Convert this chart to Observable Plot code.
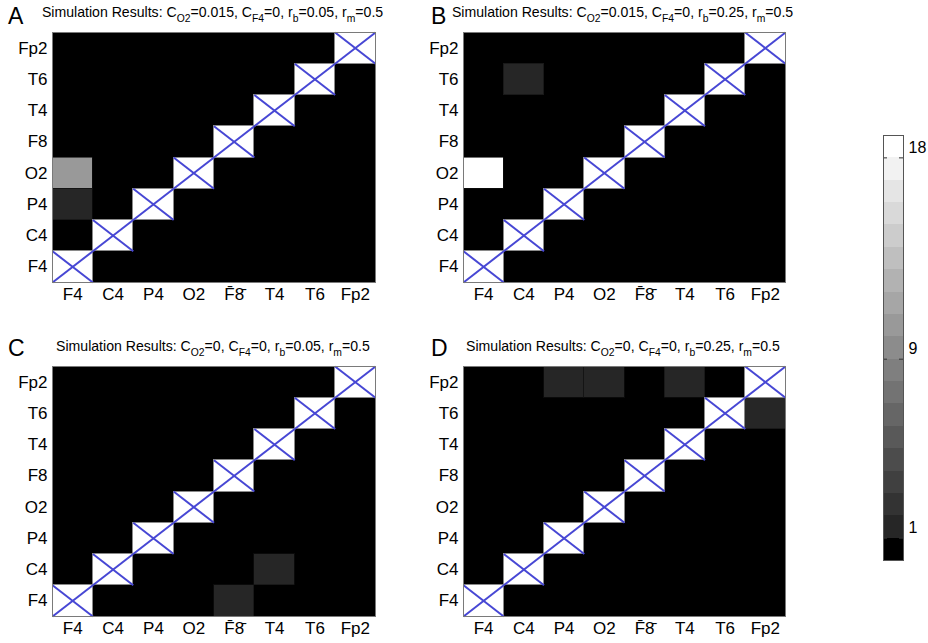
<!DOCTYPE html>
<html><head><meta charset="utf-8">
<script src="https://cdn.jsdelivr.net/npm/d3@7"></script>
<script src="https://cdn.jsdelivr.net/npm/@observablehq/plot@0.6"></script>
<style>
body{margin:0;background:#fff;font-family:"Liberation Sans",Arial,sans-serif;}
#wrap{position:relative;width:928px;height:643px;overflow:hidden;background:#fff;}
.panel{position:absolute;}
.title{position:absolute;width:500px;font-size:15px;line-height:17px;text-align:center;white-space:nowrap;color:#000;}
.title span{display:inline-block;transform:scaleX(0.94);transform-origin:50% 50%;}
.title sub{font-size:11px;vertical-align:baseline;position:relative;top:5px;}
.letter{position:absolute;font-size:23px;line-height:23px;color:#000;}
</style></head><body><div id="wrap"></div>
<script>
// ---- data ----
const channels = ["F4","C4","P4","O2","F8","T4","T6","Fp2"];
const xTickLabels = ["F4","C4","P4","O2","F\u03048\u0304","T4","T6","Fp2"];
const yTickLabels = ["F4","C4","P4","O2","F8","T4","T6","Fp2"];
const panelLetters = ["A","B","C","D"];
const cO2 = ["0.015","0.015","0","0"];
const cF4 = ["0","0","0","0"];
const rb = ["0.05","0.25","0.05","0.25"];
const rm = ["0.5","0.5","0.5","0.5"];
// non-zero off-diagonal counts: [row channel, column channel, count]
const resultsA = [["O2","F4",10],["P4","F4",1]];
const resultsB = [["O2","F4",18],["T6","C4",1]];
const resultsC = [["C4","T4",1],["F4","F8",1]];
const resultsD = [["Fp2","P4",1],["Fp2","O2",1],["Fp2","T4",1],["T6","Fp2",1]];
const colorbarTicks = [1,9,18];
const maxCount = 18;

// ---- helpers ----
const levels = d3.range(maxCount + 1);
function grayOf(v){ if(v===0) return "#000"; const g = Math.round(38 + (v-1)*217/17); return d3.rgb(g,g,g).formatHex(); }
const colorScale = {type:"ordinal", domain: levels, range: levels.map(grayOf)};
const fontFam = '"Liberation Sans", Arial, sans-serif';

function panelPlot(entries, plotW){
  const cells = [];
  channels.forEach((r, ri) => channels.forEach((c, ci) => {
    if (ri === ci) return;
    const e = entries.find(d => d[0] === r && d[1] === c);
    cells.push({row: ri, col: ci, v: e ? e[2] : 0});
  }));
  const diag = channels.map((c, i) => ({i}));
  const mid = d3.range(channels.length).map(i => i + 0.5);
  return Plot.plot({
    width: 52 + plotW + 10, height: 312,
    marginLeft: 52, marginRight: 10, marginTop: 32, marginBottom: 30,
    style: {fontFamily: fontFam, fontSize: "17px", color: "#000", background: "transparent", overflow: "visible"},
    x: {domain: [0, 8], ticks: mid, tickFormat: t => xTickLabels[Math.floor(t)], tickSize: 0, tickPadding: 5, label: null},
    y: {domain: [0, 8], ticks: mid, tickFormat: t => yTickLabels[Math.floor(t)], tickSize: 0, tickPadding: 5, label: null},
    color: colorScale,
    marks: [
      Plot.frame({fill: "#000"}),
      Plot.rect(cells.filter(d => d.v > 0), {x1: "col", x2: d => d.col + 1, y1: "row", y2: d => d.row + 1, fill: "v", stroke: "#111", strokeWidth: 0.6, shapeRendering: "crispEdges"}),
      Plot.rect(diag, {x1: "i", x2: d => d.i + 1, y1: "i", y2: d => d.i + 1, fill: "white", stroke: "#8a8a8a", strokeWidth: 1, shapeRendering: "crispEdges"}),
      Plot.link(diag, {x1: "i", y1: "i", x2: d => d.i + 1, y2: d => d.i + 1, stroke: "#4747d4", strokeWidth: 2}),
      Plot.link(diag, {x1: "i", y1: d => d.i + 1, x2: d => d.i + 1, y2: "i", stroke: "#4747d4", strokeWidth: 2}),
      Plot.frame({stroke: "#7a7a7a", strokeWidth: 1})
    ]
  });
}

const wrap = document.getElementById("wrap");
const panels = [
  {data: resultsA, left: 0, top: 0, plotW: 323},
  {data: resultsB, left: 411, top: 0, plotW: 322},
  {data: resultsC, left: 0, top: 334, plotW: 323},
  {data: resultsD, left: 411, top: 334, plotW: 322}
];
const letterPos = [[8,5],[431,5],[8,337],[431,337]];
panels.forEach((p, k) => {
  const svg = panelPlot(p.data, p.plotW);
  svg.classList.add("panel");
  svg.style.left = p.left + "px"; svg.style.top = p.top + "px";
  wrap.appendChild(svg);
  const t = document.createElement("div");
  t.className = "title";
  const center = p.left + 52 + p.plotW / 2 - 1;
  t.style.left = (center - 250) + "px"; t.style.top = (p.top + 3) + "px";
  t.innerHTML = `<span>Simulation Results: C<sub>O2</sub>=${cO2[k]}, C<sub>F4</sub>=${cF4[k]}, r<sub>b</sub>=${rb[k]}, r<sub>m</sub>=${rm[k]}</span>`;
  wrap.appendChild(t);
  const L = document.createElement("div");
  L.className = "letter"; L.textContent = panelLetters[k];
  L.style.left = letterPos[k][0] + "px"; L.style.top = letterPos[k][1] + "px";
  wrap.appendChild(L);
});

// ---- colorbar ----
const bands = levels.map(v => ({v}));
const cb = Plot.plot({
  width: 68, height: 460, marginLeft: 23, marginRight: 25, marginTop: 15, marginBottom: 20,
  style: {fontFamily: fontFam, fontSize: "16px", color: "#000", background: "transparent", overflow: "visible"},
  x: {domain: [0, 1], axis: null},
  y: {domain: [0, maxCount + 1], axis: null},
  color: colorScale,
  marks: [
    Plot.rect(bands, {x1: () => 0, x2: () => 1, y1: "v", y2: d => d.v + 1, fill: "v", shapeRendering: "crispEdges"}),
    Plot.ruleY(colorbarTicks, {x1: () => 0, x2: () => 0.2, stroke: "#333", strokeWidth: 1}),
    Plot.ruleY(colorbarTicks, {x1: () => 0.8, x2: () => 1, stroke: "#333", strokeWidth: 1}),
    Plot.text(colorbarTicks, {x: () => 1, y: d => d, text: d => String(d), textAnchor: "start", dx: 5, dy: -10, fontSize: 16, fill: "#000"}),
    Plot.frame({stroke: "#555", strokeWidth: 1})
  ]
});
cb.classList.add("panel");
cb.style.left = "860px"; cb.style.top = "120px";
wrap.appendChild(cb);
</script></body></html>
